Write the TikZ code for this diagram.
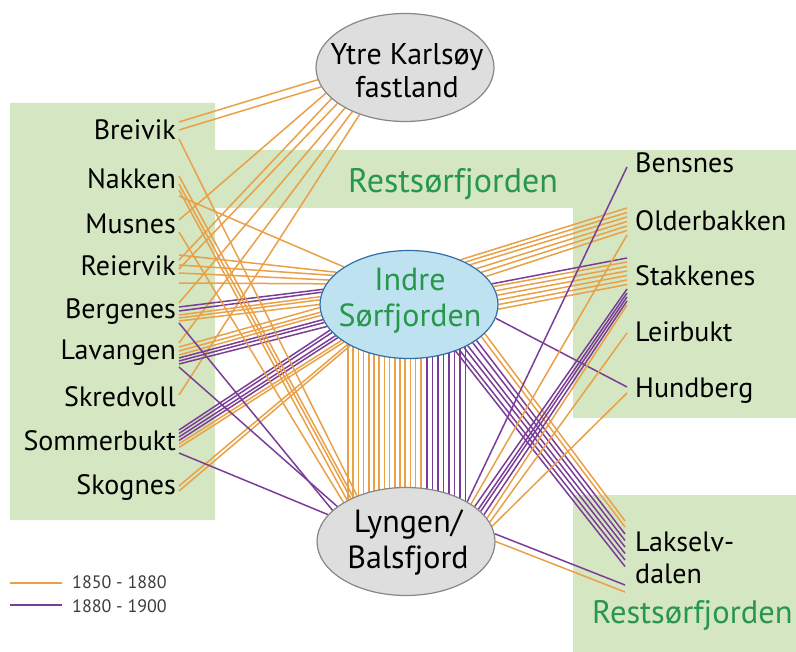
\documentclass[tikz,border=0pt]{standalone}
\usepackage{fontspec}
\setmainfont{PT Sans}
\usetikzlibrary{shapes.geometric,calc}
\pgfdeclarelayer{back}
\pgfdeclarelayer{links}
\pgfsetlayers{back,links,main}
\definecolor{regiongreen}{RGB}{212,230,194}
\definecolor{oldline}{RGB}{233,160,70}
\definecolor{newline}{RGB}{122,62,150}
\definecolor{labelgreen}{RGB}{40,150,75}
\definecolor{greyfill}{RGB}{222,222,222}
\definecolor{greyedge}{RGB}{135,135,135}
\definecolor{bluefill}{RGB}{190,226,240}
\definecolor{blueedge}{RGB}{50,110,170}
\definecolor{legendgrey}{RGB}{60,60,60}

\begin{document}
\begin{tikzpicture}[x=1pt, y=-1pt,
  early/.style={draw=oldline, line width=1.5pt},
  late/.style={draw=newline, line width=1.5pt},
  place/.style={font=\fontsize{28}{32}\selectfont, inner sep=0pt},
  hub/.style={ellipse, draw=greyedge, fill=greyfill, line width=1.2pt,
    minimum width=178pt, minimum height=108pt, inner sep=0pt},
  hubtext/.style={align=center, font=\fontsize{32}{36}\selectfont, inner sep=0pt},
  area/.style={fill=regiongreen},
  arealabel/.style={font=\fontsize{34}{34}\selectfont, text=labelgreen,
    inner sep=0pt, anchor=base west},
  legendtext/.style={font=\fontsize{18}{18}\selectfont, text=legendgrey,
    inner sep=0pt, anchor=base west}]
  \useasboundingbox (0,0) rectangle (796,652);

  \node[hub] (ytre) at (405,67.5) {};
  \node[hubtext, font=\fontsize{30}{33}\selectfont] (ytretext) at (407,70.5) {Ytre Karlsøy\\fastland};
  \node[hub, fill=bluefill, draw=blueedge] (indre) at (409,304.5) {};
  \node[hubtext, text=labelgreen] (indretext) at (410,300.5) {Indre\\Sørfjorden};
  \node[hub] (lyngen) at (406,541.5) {};
  \node[hubtext] (lyngentext) at (408,542.5) {Lyngen/\\Balsfjord};

  \foreach \n/\t/\y in {breivik/Breivik/140, nakken/Nakken/189, musnes/Musnes/234,
      reiervik/Reiervik/276, bergenes/Bergenes/319, lavangen/Lavangen/360,
      skredvoll/Skredvoll/407, sommerbukt/Sommerbukt/451, skognes/Skognes/495}
    \node[place, anchor=base east] (\n) at (176,\y) {\t};
  \foreach \n/\t/\y in {bensnes/Bensnes/173, olderbakken/Olderbakken/231,
      stakkenes/Stakkenes/286, leirbukt/Leirbukt/342, hundberg/Hundberg/398}
    \node[place, anchor=base west] (\n) at (635,\y) {\t};
  \node[place, anchor=west, align=left] (lakselv) at (635,558) {Lakselv-\\dalen};

  \node[arealabel] (restnord) at (348,193) {Restsørfjorden};
  \node[arealabel, font=\fontsize{32.5}{33}\selectfont] (restsor) at (592,623) {Restsørfjorden};

  \node[legendtext] (leg1) at (72,588) {1850 - 1880};
  \node[legendtext] (leg2) at (72,612) {1880 - 1900};
  \draw[early, line width=1.2pt] (10,583) -- (62,583);
  \draw[late, line width=1.2pt] (10,605) -- (62,605);

  \begin{pgfonlayer}{back}
    \fill[area] (10,103) -- (215,103) -- (215,150) -- (796,150) -- (796,418)
      -- (573,418) -- (573,208) -- (215,208) -- (215,520) -- (10,520) -- cycle;
    \fill[area] (573,495) rectangle (796,652);
  \end{pgfonlayer}

  \begin{pgfonlayer}{links}
    \foreach \d/\a in {-18/188,-10/193}
      \draw[early] ($(breivik.base east)+(3,\d)$) -- (ytre.\a);
    \draw[early] ($(musnes.base east)+(3,-14)$) -- (ytre.198);
    \foreach \d/\a in {-16/203,-7/208}
      \draw[early] ($(reiervik.base east)+(3,\d)$) -- (ytre.\a);
    \draw[early] ($(bergenes.base east)+(3,-16)$) -- (ytre.214);
    \draw[early] ($(lavangen.base east)+(3,-17)$) -- (ytre.220);
    \draw[early] ($(skredvoll.base east)+(3,-12)$) -- (ytre.226);

    \draw[early] ($(nakken.base east)+(3,7)$) -- (indre.150);
    \foreach \d/\a in {-21/156,-11/159.5,-3/163,7/166.5}
      \draw[early] ($(reiervik.base east)+(3,\d)$) -- (indre.\a);
    \foreach \d/\a in {-12/170,-8/172.5}
      \draw[late] ($(bergenes.base east)+(3,\d)$) -- (indre.\a);
    \foreach \d/\a in {-4/175,-1/177.5,2/180}
      \draw[early] ($(bergenes.base east)+(3,\d)$) -- (indre.\a);
    \foreach \d/\a in {-13/182.5,-9/185,-5/187.5}
      \draw[early] ($(lavangen.base east)+(3,\d)$) -- (indre.\a);
    \foreach \d/\a in {-2/190,1/192.5,4/195}
      \draw[late] ($(lavangen.base east)+(3,\d)$) -- (indre.\a);
    \foreach \d/\a in {-21/198,-17.5/200.5,-14/203,-10.5/205.5}
      \draw[late] ($(sommerbukt.base east)+(3,\d)$) -- (indre.\a);
    \foreach \d/\a in {-7/208,-3.5/210.5}
      \draw[early] ($(sommerbukt.base east)+(3,\d)$) -- (indre.\a);
    \foreach \d/\a in {-9/213,-4/215.5}
      \draw[early] ($(skognes.base east)+(3,\d)$) -- (indre.\a);

    \foreach \n/\d/\a in {breivik/-1/137, nakken/-13/140, nakken/-5/142.5,
        nakken/1/145, musnes/-2/148}
      \draw[early] ($(\n.base east)+(3,\d)$) -- (lyngen.\a);
    \foreach \n/\d/\a in {lavangen/7/153, bergenes/4/157, sommerbukt/2/161}
      \draw[late] ($(\n.base east)+(3,\d)$) -- (lyngen.\a);

    \foreach \x in {-61,-55.8,...,12}
      \draw[early] ([xshift=\x pt]indre.center) -- ([xshift=\x pt]indre.center |- lyngen.center);
    \foreach \x in {18,23.5,...,57}
      \draw[late] ([xshift=\x pt]indre.center) -- ([xshift=\x pt]indre.center |- lyngen.center);

    \foreach \a/\d in {41/-23,37/-18.5,33/-14,28.5/-9.5,24/-5,20/-0.5}
      \draw[early] (indre.\a) -- ($(olderbakken.base west)+(-8,\d)$);
    \draw[late] (indre.14.5) -- ($(stakkenes.base west)+(-8,-28)$);
    \foreach \a/\d in {12/-24,9/-19.5,6/-15,3/-10.5,0/-6,-3/-1.5}
      \draw[early] (indre.\a) -- ($(stakkenes.base west)+(-8,\d)$);
    \draw[late] (indre.-9) -- ($(hundberg.base west)+(-8,-11)$);
    \foreach \a/\d in {-21/-37,-24.5/-31}
      \draw[early] (indre.\a) -- ($(lakselv.west)+(-10,\d)$);
    \foreach \a/\d in {-28/-24,-31.5/-17.5,-35/-11,-38.5/-4.5,-42/2,-45.5/8.5}
      \draw[late] (indre.\a) -- ($(lakselv.west)+(-10,\d)$);

    \draw[late] (lyngen.33) -- ($(bensnes.base west)+(-8,-6)$);
    \draw[early] (lyngen.30) -- ($(olderbakken.base west)+(-8,4)$);
    \foreach \a/\d in {27/3,24.5/7,22/11,19.5/15}
      \draw[late] (lyngen.\a) -- ($(stakkenes.base west)+(-8,\d)$);
    \draw[early] (lyngen.16.5) -- ($(stakkenes.base west)+(-8,19)$);
    \draw[early] (lyngen.13.5) -- ($(leirbukt.base west)+(-8,-9)$);
    \draw[early] (lyngen.10.5) -- ($(hundberg.base west)+(-8,-5)$);
    \draw[late] (lyngen.5) -- ($(lakselv.west)+(-10,27)$);
    \draw[early] (lyngen.0) -- ($(lakselv.west)+(-10,34)$);
  \end{pgfonlayer}
\end{tikzpicture}
\end{document}
